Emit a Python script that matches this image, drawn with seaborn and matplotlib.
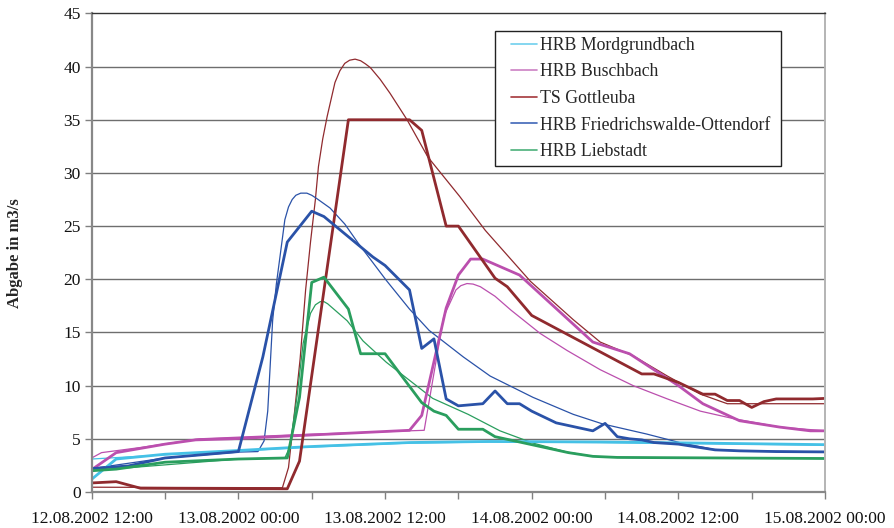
import seaborn as sns
import matplotlib.pyplot as plt
from matplotlib.lines import Line2D
from matplotlib.legend_handler import HandlerBase

# Stunden nach 12.08.2002 12:00
x_labels = ["12.08.2002 12:00", "13.08.2002 00:00", "13.08.2002 12:00",
            "14.08.2002 00:00", "14.08.2002 12:00", "15.08.2002 00:00"]
x_major = [0, 12, 24, 36, 48, 60]
x_minor = [6, 18, 30, 42, 54]

names = ["HRB Mordgrundbach", "HRB Buschbach", "TS Gottleuba",
         "HRB Friedrichswalde-Ottendorf", "HRB Liebstadt"]
colors = ["#45c1e6", "#bb4fae", "#902a2e", "#2a52a8", "#2a9e5e"]
legend_colors = ["#6fcfee", "#cc80c4", "#a4373b", "#3f66b8", "#4cb07a"]

# HRB Mordgrundbach
mord_h = [0, 2, 6, 12, 17.5, 19.5, 26, 32.5, 41.6, 49.7, 60]
mord_obs = [1.2, 3.1, 3.55, 3.9, 4.25, 4.35, 4.65, 4.75, 4.7, 4.6, 4.45]
mord_sim_h = [0, 6, 12, 17.5, 26, 32.5, 41.6, 49.7, 60]
mord_sim = [3.1, 3.5, 3.85, 4.2, 4.6, 4.7, 4.65, 4.55, 4.4]

# HRB Buschbach
busch_h = [0, 2, 6, 8.5, 11.4, 26, 27, 29, 30, 31, 32, 35, 41, 44, 48, 50, 53, 56.3, 58.8, 60]
busch_obs = [2.1, 3.7, 4.5, 4.9, 5.0, 5.8, 7.2, 17.3, 20.4, 21.9, 21.9, 20.4, 14.1, 13.0,
             10.0, 8.3, 6.7, 6.1, 5.75, 5.75]
busch_sim_h = [0, 0.8, 4.1, 8.8, 17.1, 27.2, 27.9, 28.8, 29.8, 30.2, 30.7, 31.2, 31.8,
               33.0, 34.3, 36.7, 38.9, 41.6, 44.3, 47.1, 49.8, 52.5, 56.3, 60]
busch_sim = [3.2, 3.7, 4.2, 5.0, 5.4, 5.8, 10.5, 16.5, 19.0, 19.4, 19.6, 19.55, 19.3,
             18.4, 17.1, 14.9, 13.3, 11.5, 10.0, 8.75, 7.6, 6.9, 6.1, 5.75]

# TS Gottleuba
gott_h = [0, 2, 4, 16, 17, 21, 26, 27, 29, 30, 33, 34, 36, 45, 46, 48, 50, 51, 52, 53,
          54, 55, 56, 59, 60]
gott_obs = [0.85, 0.97, 0.35, 0.3, 2.9, 35, 35, 34, 25, 25, 20.1, 19.3, 16.6, 11.1, 11.1,
            10.3, 9.2, 9.2, 8.6, 8.6, 7.95, 8.5, 8.75, 8.75, 8.8]
gott_sim_h = [0, 15.6, 16.1, 16.6, 17.05, 17.5, 17.9, 18.3, 18.55, 18.9, 19.26, 19.6,
              19.9, 20.3, 20.7, 21.1, 21.55, 22.0, 22.4, 22.8, 23.6, 24.4, 25.8, 27.5,
              30.1, 32.2, 35.9, 39.4, 41.6, 44.3, 47.1, 49.8, 52.0, 60]
gott_sim = [0.45, 0.4, 2.3, 7.6, 12.5, 19, 23.5, 27.5, 30.6, 33.2, 35.3, 37.0, 38.5, 39.6,
            40.3, 40.6, 40.7, 40.55, 40.25, 39.9, 38.8, 37.5, 35, 31.5, 27.8, 24.6, 19.8,
            16.2, 14.1, 12.8, 10.9, 9.2, 8.3, 8.3]

# HRB Friedrichswalde-Ottendorf
fried_h = [0, 3, 6, 12, 14, 16, 18, 19, 23, 24, 26, 27, 28, 29, 30, 32, 33, 34, 35, 36,
           38, 40, 41, 42, 43, 44, 45, 46, 48, 51, 53, 56, 60]
fried_obs = [2.2, 2.45, 3.2, 3.8, 12.7, 23.5, 26.4, 25.9, 22.1, 21.3, 19.0, 13.5, 14.4,
             8.75, 8.1, 8.3, 9.5, 8.3, 8.3, 7.6, 6.5, 6.0, 5.75, 6.45, 5.2, 5.0, 4.9,
             4.65, 4.5, 3.96, 3.87, 3.8, 3.77]
fried_sim_h = [0, 6.0, 12.0, 13.6, 14.1, 14.4, 14.8, 15.1, 15.4, 15.8, 16.1, 16.4, 16.7,
               17.1, 17.6, 18.0, 18.4, 19.5, 20.7, 21.8, 24.1, 26.0, 27.6, 30.4, 32.6,
               36.1, 39.4, 41.8, 45.4, 48.1, 50.9, 53.1, 60]
fried_sim = [2.2, 3.2, 3.75, 3.8, 4.8, 7.6, 16.1, 19.5, 22.1, 25.6, 26.8, 27.5, 27.9,
             28.1, 28.1, 27.9, 27.6, 26.7, 25.2, 23.4, 19.9, 17.2, 15.2, 12.7, 10.9,
             8.9, 7.3, 6.4, 5.45, 4.65, 4.0, 3.87, 3.77]

# HRB Liebstadt
lieb_h = [0, 2, 6, 12, 16, 17, 18, 19, 21, 22, 24, 27, 28, 29, 30, 32, 33, 35, 37, 39,
          41, 43, 60]
lieb_obs = [2.0, 2.15, 2.8, 3.1, 3.2, 8.9, 19.7, 20.2, 17.2, 13.0, 13.0, 8.4, 7.6, 7.2,
            5.9, 5.9, 5.2, 4.7, 4.2, 3.7, 3.35, 3.25, 3.15]
lieb_sim_h = [0, 12.0, 15.8, 16.2, 16.8, 17.3, 17.9, 18.3, 18.7, 19.0, 19.3, 20.9, 22.2,
              24.1, 26.0, 27.9, 30.8, 33.4, 36.1, 38.9, 41.0, 43.2, 60]
lieb_sim = [2.0, 3.1, 3.2, 4.2, 9.0, 14.0, 16.8, 17.6, 17.9, 17.9, 17.7, 16.1, 14.2,
            12.2, 10.5, 8.8, 7.3, 5.75, 4.6, 3.75, 3.35, 3.25, 3.15]

sim = [(mord_sim_h, mord_sim), (busch_sim_h, busch_sim), (gott_sim_h, gott_sim),
       (fried_sim_h, fried_sim), (lieb_sim_h, lieb_sim)]
obs = [(mord_h, mord_obs), (busch_h, busch_obs), (gott_h, gott_obs),
       (fried_h, fried_obs), (lieb_h, lieb_obs)]


class ShortLine(HandlerBase):
    # Linie im Legendenfeld etwas nach rechts versetzt
    def create_artists(self, legend, orig_handle, xdescent, ydescent, width, height,
                       fontsize, trans):
        y = height / 2 - ydescent
        x0 = -xdescent + width * 0.29
        line = Line2D([x0, -xdescent + width], [y, y], color=orig_handle.get_color(),
                      lw=orig_handle.get_linewidth())
        line.set_transform(trans)
        return [line]


sns.set_theme(style="white")
plt.rcParams["font.family"] = ["Liberation Serif", "DejaVu Serif"]

fig = plt.figure(figsize=(8.94, 5.28), dpi=100)
ax = fig.add_axes([0.1026, 0.0682, 0.8203, 0.9064])

# Gitterlinien
for v in range(5, 45, 5):
    ax.axhline(v, color="#6e6e6e", lw=1.0, zorder=0)

for (h, v), c in zip(sim, colors):
    sns.lineplot(x=h, y=v, ax=ax, color=c, linewidth=0.9, legend=False)
for (h, v), c in zip(obs, colors):
    sns.lineplot(x=h, y=v, ax=ax, color=c, linewidth=2.0, legend=False)

ax.set_xlim(0, 60)
ax.set_ylim(0, 45)
ax.set_yticks(range(0, 50, 5))
ax.set_xticks(x_major)
ax.set_xticklabels(x_labels)
ax.set_xticks(x_minor, minor=True)
ax.tick_params(axis="x", which="both", direction="out", length=5, width=1,
               color="#808080", bottom=True, labelsize=12.5, pad=9)
ax.tick_params(axis="y", direction="out", length=5, width=1, color="#808080",
               left=True, labelsize=12.5, pad=3)
for lab in ax.get_xticklabels() + ax.get_yticklabels():
    lab.set_color("#111111")

ax.spines["left"].set_color("#888888")
ax.spines["left"].set_linewidth(1.6)
ax.spines["bottom"].set_color("#888888")
ax.spines["bottom"].set_linewidth(1.6)
ax.spines["right"].set_color("#b4b4b4")
ax.spines["right"].set_linewidth(1.4)
ax.spines["top"].set_color("#333333")
ax.spines["top"].set_linewidth(1.0)

ax.set_xlabel("")
ax.set_ylabel("Abgabe in m3/s", fontsize=12, fontweight="bold")
ax.yaxis.set_label_coords(-0.094, 0.5)

handles = [Line2D([], [], color=c, lw=1.2) for c in legend_colors]
leg = ax.legend(handles, names, loc="upper left",
                bbox_to_anchor=(0.55, 0.687, 0.39, 0.276), mode="expand",
                borderaxespad=0, fontsize=12.8, frameon=True, fancybox=False,
                edgecolor="#222222", framealpha=1, handlelength=2.05,
                handletextpad=0.17, labelspacing=0.54, borderpad=0.32,
                handler_map={Line2D: ShortLine()})
leg.get_frame().set_linewidth(1.0)

fig.savefig("out.png", dpi=100)
